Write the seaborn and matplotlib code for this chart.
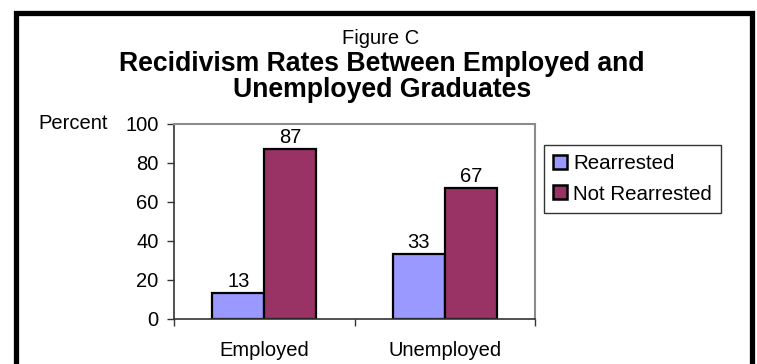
import matplotlib
matplotlib.use("Agg")
import matplotlib.pyplot as plt
import seaborn as sns
import pandas as pd
from matplotlib.patches import Rectangle

categories = ["Employed", "Unemployed"]
series_names = ["Rearrested", "Not Rearrested"]
rearrested = [13, 33]
not_rearrested = [87, 67]
y_ticks = [0, 20, 40, 60, 80, 100]
colors = ["#9999FF", "#993366"]

df = pd.DataFrame({
    "Category": categories * 2,
    "Series": [series_names[0]] * 2 + [series_names[1]] * 2,
    "Value": rearrested + not_rearrested,
})

sns.set_theme(style="white")
plt.rcParams["font.family"] = ["Liberation Sans", "DejaVu Sans"]
plt.rcParams["text.color"] = "black"
plt.rcParams["axes.labelcolor"] = "black"
plt.rcParams["xtick.color"] = "black"
plt.rcParams["ytick.color"] = "black"

FS = 14.5
H = 364.0
fig = plt.figure(figsize=(7.57, 3.64), dpi=100)
fig.patch.set_facecolor("white")
ax = fig.add_axes([174 / 757, 1 - 318.7 / H, (535 - 174) / 757, (318.7 - 123.5) / H])

sns.barplot(data=df, x="Category", y="Value", hue="Series", order=categories,
            hue_order=series_names, palette=colors, width=0.576,
            edgecolor="black", linewidth=1.6, ax=ax, saturation=1)

for cont in ax.containers:
    ax.bar_label(cont, fmt="%d", padding=1.5, fontsize=FS, color="black")

ax.set_xlim(-0.5, 1.5)
ax.set_ylim(0, 100)
ax.set_yticks(y_ticks)
ax.set_xlabel("")
ax.set_ylabel("")
ax.tick_params(axis="y", which="major", direction="out", length=5, width=1,
               color="#333333", pad=6, labelsize=FS, left=True, labelcolor="black")
ax.set_xticks([-0.5, 0.5, 1.5], minor=True)
ax.tick_params(axis="x", which="minor", direction="out", length=5, width=1,
               color="#333333", bottom=True)
ax.tick_params(axis="x", which="major", length=0, pad=16, labelsize=FS,
               labelcolor="black")
for s in ["left", "bottom"]:
    ax.spines[s].set_color("#333333")
    ax.spines[s].set_linewidth(1.2)
for s in ["top", "right"]:
    ax.spines[s].set_color("#8c8c8c")
    ax.spines[s].set_linewidth(1.5)

leg = ax.legend(loc="upper left", bbox_to_anchor=(544 / 757, 1 - 145 / H),
                bbox_transform=fig.transFigure, frameon=True, fontsize=14.8,
                handlelength=0.66, handleheight=0.66, handletextpad=0.3,
                borderpad=0.45, labelspacing=0.55, fancybox=False,
                borderaxespad=0)
leg.get_frame().set_edgecolor("black")
leg.get_frame().set_linewidth(1.0)
for h in leg.legend_handles:
    h.set_edgecolor("black")
    h.set_linewidth(1.8)
for t in leg.get_texts():
    t.set_color("black")

fig.text(38 / 757, 1 - 123.5 / H, "Percent", ha="left", va="center", fontsize=FS,
         color="black")
fig.text(381 / 757, 1 - 43.5 / H, "Figure C", ha="center", va="baseline",
         fontsize=14.5, color="black")
fig.text(382 / 757, 1 - 71 / H, "Recidivism Rates Between Employed and",
         ha="center", va="baseline", fontsize=19.2, fontweight="bold", color="black")
fig.text(382 / 757, 1 - 97 / H, "Unemployed Graduates",
         ha="center", va="baseline", fontsize=19.2, fontweight="bold", color="black")

border = Rectangle((15.5 / 757, -0.2), (752 - 15.5) / 757, 1.2 - 12.5 / H,
                   transform=fig.transFigure, fill=False, edgecolor="black",
                   linewidth=3.8, clip_on=False)
fig.patches.append(border)

fig.savefig("out.png", dpi=100, facecolor="white")
